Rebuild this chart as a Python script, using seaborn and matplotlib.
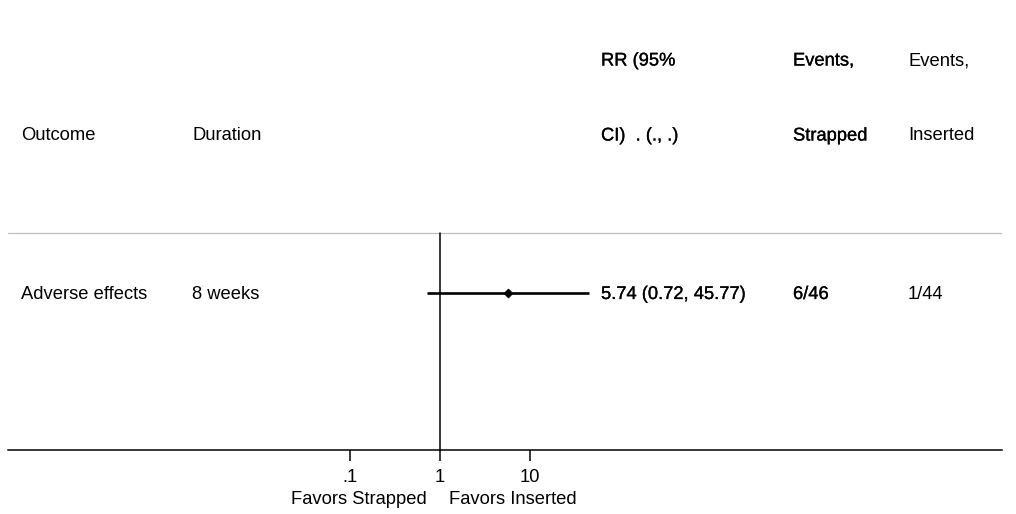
import numpy as np
import pandas as pd
import matplotlib
matplotlib.use("Agg")
import matplotlib.pyplot as plt
import matplotlib.patheffects as pe
import seaborn as sns

# ---- data ----
outcomes = ["Adverse effects"]
durations = ["8 weeks"]
rr = [5.74]
ci_low = [0.72]
ci_high = [45.77]
events_strapped = ["6/46"]
events_inserted = ["1/44"]
rr_labels = ["5.74 (0.72, 45.77)"]
header_top = ["", "", "RR (95%", "Events,", "Events,"]
header_bottom = ["Outcome", "Duration", "CI)  . (., .)", "Strapped", "Inserted"]
tick_values = [0.1, 1, 10]
tick_labels = [".1", "1", "10"]
favors_left = "Favors Strapped"
favors_right = "Favors Inserted"

sns.set_theme(style="white")
plt.rcParams["font.family"] = ["Liberation Sans", "DejaVu Sans"]
plt.rcParams["text.color"] = "black"
plt.rcParams["xtick.color"] = "black"

W, H = 1016, 514
fig = plt.figure(figsize=(W / 100, H / 100), dpi=100)
fig.patch.set_facecolor("white")

# axes spanning pixel x 8..1002, y 0..450 (from top)
ax = fig.add_axes([8 / W, (H - 450) / H, (1002 - 8) / W, 450 / H])
ax.set_facecolor("white")

x0 = 440.0
dec = 89.7
ax.set_xscale("log")
ax.set_xlim(10 ** ((8 - x0) / dec), 10 ** ((1002 - x0) / dec))

unit = 157.0  # pixels per y unit
row_px = 292.5
ax.set_ylim(-(450 - row_px) / unit, row_px / unit)

def ypx(p):
    return (row_px - p) / unit

df = pd.DataFrame({"outcome": outcomes, "duration": durations, "rr": rr,
                   "lo": ci_low, "hi": ci_high, "es": events_strapped,
                   "ei": events_inserted, "lab": rr_labels})
df["y"] = [0.0] * len(df)

# separator line
ax.axhline(ypx(233), color="#bfbfbf", lw=0.9, zorder=1)
# null line at 1
ax.axvline(1, ymin=0, ymax=(450 - 233) / 450, color="black", lw=1.1, zorder=2)

# CIs and points
for _, r in df.iterrows():
    ax.plot([r["lo"], r["hi"]], [r["y"], r["y"]], color="black", lw=1.9,
            solid_capstyle="butt", zorder=3)
sns.scatterplot(data=df, x="rr", y="y", marker="D", s=22, color="black",
                edgecolor="black", ax=ax, zorder=4, legend=False)

# spines / ticks
for s in ["top", "right", "left"]:
    ax.spines[s].set_visible(False)
ax.spines["bottom"].set_color("black")
ax.spines["bottom"].set_linewidth(1.1)
ax.set_yticks([])
ax.set_xticks(tick_values)
ax.set_xticklabels(tick_labels)
ax.xaxis.set_minor_locator(matplotlib.ticker.NullLocator())
ax.tick_params(axis="x", which="major", direction="out", length=8, width=1.1,
               color="black", labelcolor="black", labelsize=13.2, pad=6, bottom=True)
ax.set_xlabel("")
ax.set_ylabel("")

fs = 13.2
tr = ax.get_yaxis_transform()
col_px = [21, 192, 601, 793, 908]
cols = [(p - 8) / 994 for p in col_px]
heavy = [False, False, True, True, False]
heavy_fx = [pe.withStroke(linewidth=0.2, foreground="black")]
dy = 2.0 / unit  # small downward nudge (pixels -> data)

def put(c, y, t, h):
    kw = dict(transform=tr, fontsize=fs, va="center", ha="left", color="black")
    if h:
        kw["path_effects"] = heavy_fx
    ax.text(c, y - dy, t, **kw)

for c, t, h in zip(cols, header_top, heavy):
    if t:
        put(c, ypx(59), t, h)
for c, t, h in zip(cols, header_bottom, heavy):
    put(c, ypx(134), t, h)

for _, r in df.iterrows():
    vals = [r["outcome"], r["duration"], r["lab"], r["es"], r["ei"]]
    for c, t, h in zip(cols, vals, heavy):
        put(c, r["y"], t, h)

# favors labels
fig.text(427 / W, 1 - 500 / H, favors_left, fontsize=fs, ha="right", va="center", color="black")
fig.text(449 / W, 1 - 500 / H, favors_right, fontsize=fs, ha="left", va="center", color="black")

fig.savefig("out.png", dpi=100, facecolor="white")
